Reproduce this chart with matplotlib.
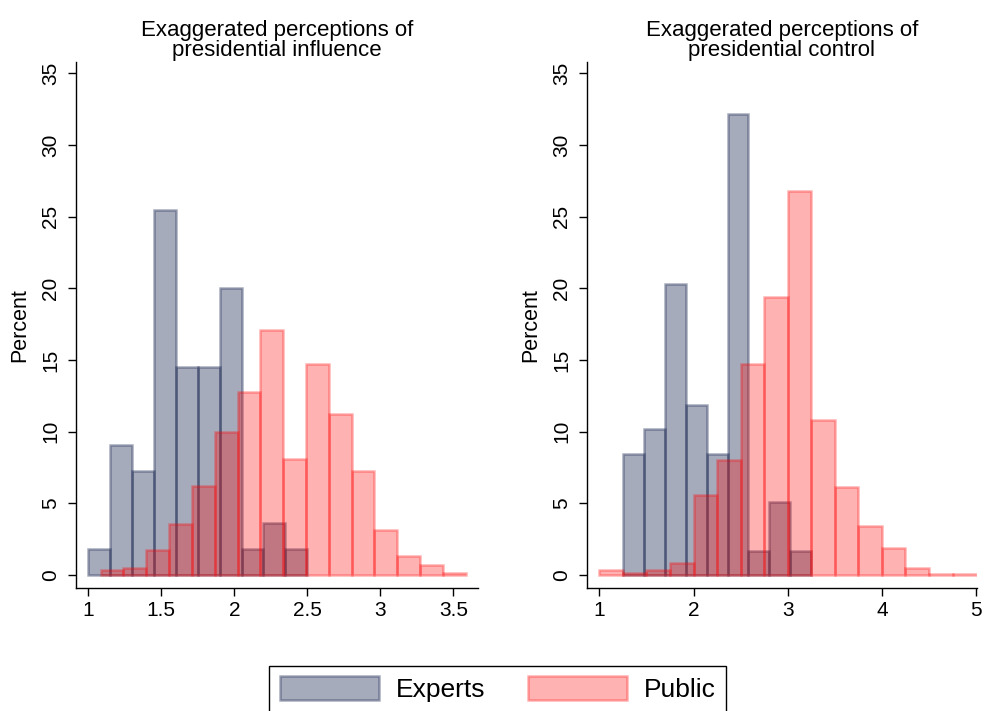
from matplotlib import pyplot as plt
import matplotlib as mpl
import numpy as np

mpl.rcParams['font.family'] = ['Liberation Sans', 'DejaVu Sans']
mpl.rcParams['font.size'] = 15

# influence panel: bin edges and percents
inf_exp_edges = [1.0, 1.15, 1.3, 1.45, 1.6, 1.75, 1.9, 2.05, 2.2, 2.35, 2.5]
inf_exp_pct = [1.82, 9.09, 7.27, 25.45, 14.55, 14.55, 20.0, 1.82, 3.64, 1.82]
inf_pub_edges = [1.085, 1.241, 1.398, 1.554, 1.71, 1.866, 2.023, 2.179, 2.335,
                 2.491, 2.648, 2.804, 2.96, 3.116, 3.273, 3.429, 3.585]
inf_pub_pct = [0.35, 0.47, 1.75, 3.58, 6.18, 10.0, 12.8, 17.12, 8.07, 14.75,
               11.26, 7.27, 3.17, 1.35, 0.72, 0.12]

# control panel
con_exp_edges = [1.25, 1.472, 1.694, 1.917, 2.139, 2.361, 2.583, 2.806, 3.028, 3.25]
con_exp_pct = [8.47, 10.17, 20.34, 11.86, 8.47, 32.2, 1.69, 5.08, 1.69]
con_pub_edges = [1.0, 1.25, 1.5, 1.75, 2.0, 2.25, 2.5, 2.75, 3.0, 3.25, 3.5,
                 3.75, 4.0, 4.25, 4.5, 4.75, 5.0]
con_pub_pct = [0.33, 0.16, 0.33, 0.86, 5.55, 8.0, 14.75, 19.38, 26.82, 10.84,
               6.16, 3.4, 1.91, 0.47, 0.05, 0.05]

titles = ['Exaggerated perceptions of\npresidential influence',
          'Exaggerated perceptions of\npresidential control']
xticks_l = [1, 1.5, 2, 2.5, 3, 3.5]
xticklabels_l = ['1', '1.5', '2', '2.5', '3', '3.5']
xticks_r = [1, 2, 3, 4, 5]
yticks = [0, 5, 10, 15, 20, 25, 30, 35]

exp_col = (15/255, 29/255, 72/255)
pub_col = (1.0, 0.0, 0.0)

W, H = 984, 711
fig = plt.figure(figsize=(W/100, H/100), dpi=100)

def px_axes(x0, x1, y0, y1):
    return fig.add_axes([x0/W, 1 - y1/H, (x1-x0)/W, (y1-y0)/H])

ax1 = px_axes(75.7, 478.3, 61.7, 588)
ax2 = px_axes(586.7, 977, 61.7, 588)

def draw_hist(ax, edges, pct, color, alpha, label):
    edges = np.asarray(edges)
    ax.bar(edges[:-1], pct, width=np.diff(edges), align='edge',
           color=color, edgecolor=color, alpha=alpha, linewidth=1.8, label=label)

draw_hist(ax1, inf_exp_edges, inf_exp_pct, exp_col, 0.37, 'Experts')
draw_hist(ax1, inf_pub_edges, inf_pub_pct, pub_col, 0.3, 'Public')
draw_hist(ax2, con_exp_edges, con_exp_pct, exp_col, 0.37, 'Experts')
draw_hist(ax2, con_pub_edges, con_pub_pct, pub_col, 0.3, 'Public')

ax1.set_xlim(0.914, 3.671)
ax2.set_xlim(0.866, 5.01)
ax1.set_xticks(xticks_l)
ax1.set_xticklabels(xticklabels_l)
ax2.set_xticks(xticks_r)

for ax, t in zip([ax1, ax2], titles):
    ax.set_ylim(-0.907, 35.82)
    ax.set_yticks(yticks)
    for lab in ax.get_yticklabels():
        lab.set_rotation(90)
        lab.set_va('center')
    ax.spines['top'].set_visible(False)
    ax.spines['right'].set_visible(False)
    ax.spines['left'].set_linewidth(1.0)
    ax.spines['bottom'].set_linewidth(1.0)
    ax.tick_params(direction='out', length=6, width=1.0, labelsize=15)
    ax.tick_params(axis='y', pad=5)
    ax.tick_params(axis='x', pad=3)
    ax.set_ylabel('Percent', fontsize=15.5, labelpad=8)
    ax.set_title(t, fontsize=16, pad=4, linespacing=0.95)

h, l = ax1.get_legend_handles_labels()
leg = fig.legend(h, l, loc='upper center', bbox_to_anchor=(0.506, 1 - 665.7/H),
                 ncol=2, fontsize=19, frameon=True, fancybox=False,
                 edgecolor='black', framealpha=1, handlelength=3.75,
                 handleheight=1.0, handletextpad=0.65, columnspacing=1.6,
                 borderpad=0.4, borderaxespad=0)
leg.get_frame().set_linewidth(1.0)

plt.savefig('out.png', dpi=100)
